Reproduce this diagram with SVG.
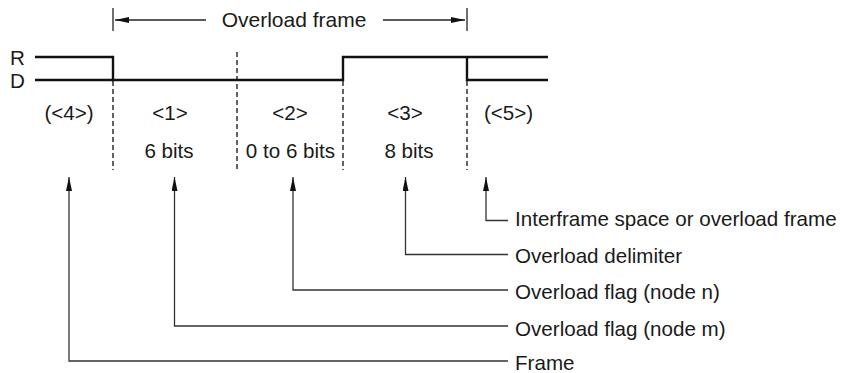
<svg xmlns="http://www.w3.org/2000/svg" width="847" height="373" viewBox="0 0 847 373">
<style>
text{font-family:"Liberation Sans",Arial,Helvetica,sans-serif;font-size:20.6px;fill:#1a1a1a}
.mid{text-anchor:middle}
.sig{fill:none;stroke:#111;stroke-width:2.4;stroke-linejoin:miter}
.dash{stroke:#111;stroke-width:1.3;stroke-dasharray:5 3;fill:none}
.thin{fill:none;stroke:#222;stroke-width:1.3}
.conn{fill:none;stroke:#333;stroke-width:1.3}
</style>
<defs>
<marker id="ah" viewBox="0 0 14 6" refX="14" refY="3" markerWidth="14" markerHeight="6" markerUnits="userSpaceOnUse" orient="auto">
<path d="M0,0 L14,3 L0,6 Z" fill="#111"/>
</marker>
</defs>
<g id="frame-bracket">
<line class="thin" x1="113" y1="8" x2="113" y2="31"/>
<line class="thin" x1="467" y1="8" x2="467" y2="31"/>
<line class="thin" x1="206" y1="20" x2="115" y2="20" marker-end="url(#ah)"/>
<line class="thin" x1="383" y1="20" x2="465" y2="20" marker-end="url(#ah)"/>
<text class="mid" x="294" y="27" style="font-size:21px">Overload frame</text>
</g>
<g id="signal">
<text x="10" y="65">R</text>
<text x="10" y="88">D</text>
<polyline class="sig" points="35,57 113,57 113,80 343,80 343,57 548,57"/>
<polyline class="sig" points="35,80 113,80"/>
<polyline class="sig" points="467,57 467,80 548,80"/>
</g>
<g id="dividers">
<line class="dash" x1="113" y1="81" x2="113" y2="170"/>
<line class="dash" x1="237" y1="52" x2="237" y2="170"/>
<line class="dash" x1="343" y1="81" x2="343" y2="170"/>
<line class="dash" x1="467" y1="81" x2="467" y2="170"/>
</g>
<g id="field-4"><text class="mid" x="69" y="120">(&lt;4&gt;)</text></g>
<g id="field-1"><text class="mid" x="170" y="120">&lt;1&gt;</text><text class="mid" x="169" y="158">6 bits</text></g>
<g id="field-2"><text class="mid" x="290" y="120">&lt;2&gt;</text><text class="mid" x="290.5" y="158">0 to 6 bits</text></g>
<g id="field-3"><text class="mid" x="405" y="120">&lt;3&gt;</text><text class="mid" x="409" y="158">8 bits</text></g>
<g id="field-5"><text class="mid" x="508.5" y="120">(&lt;5&gt;)</text></g>
<g id="connectors">
<polyline class="conn" points="508,220.5 486,220.5 486,177" marker-end="url(#ah)"/>
<polyline class="conn" points="508,254.5 405.5,254.5 405.5,177" marker-end="url(#ah)"/>
<polyline class="conn" points="508,290 293,290 293,177" marker-end="url(#ah)"/>
<polyline class="conn" points="508,326 174.5,326 174.5,177" marker-end="url(#ah)"/>
<polyline class="conn" points="508,361 69,361 69,177" marker-end="url(#ah)"/>
</g>
<g id="label-interframe"><text x="515" y="225.5">Interframe space or overload frame</text></g>
<g id="label-delimiter"><text x="515" y="262.5">Overload delimiter</text></g>
<g id="label-flag-n"><text x="515" y="298.5">Overload flag (node n)</text></g>
<g id="label-flag-m"><text x="515" y="335.5">Overload flag (node m)</text></g>
<g id="label-frame"><text x="515" y="370">Frame</text></g>
</svg>
